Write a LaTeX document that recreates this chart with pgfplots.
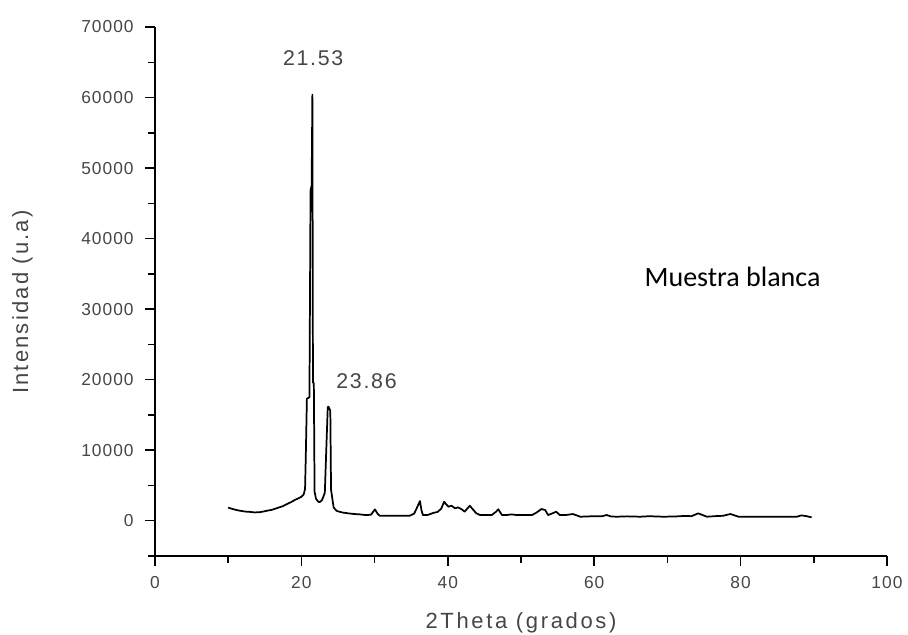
\documentclass[border=0pt]{standalone}
\usepackage{pgfplots}
\pgfplotsset{compat=1.18}
\usepackage{fontspec}
\setmainfont{Liberation Sans}
\newfontfamily\calibri{Carlito}
\definecolor{txtgray}{RGB}{70,70,70}
\begin{document}
\begin{tikzpicture}
\useasboundingbox (-116.25pt,-59.25pt) rectangle (564.75pt,417pt);
\begin{axis}[
  at={(0,0)}, anchor=south west,
  scale only axis, width=549pt, height=396.75pt,
  xmin=0, xmax=100, ymin=-5000, ymax=70000,
  axis lines=left, axis line style={-, line width=1.1pt, black},
  tick align=outside,
  xtick={0,20,...,100}, minor xtick={10,30,50,70,90},
  ytick={0,10000,...,70000}, minor ytick={-5000,5000,15000,25000,35000,45000,55000,65000},
  major tick length=7.5pt, minor tick length=5pt,
  every tick/.style={black, line width=1.1pt},
  /pgf/number format/assume math mode=true,
  /pgf/number format/1000 sep={},
  scaled y ticks=false,
  tick label style={font=\fontsize{13}{15}\selectfont\addfontfeature{LetterSpace=6}, text=txtgray},
  yticklabel style={xshift=-5pt},
  xticklabel style={yshift=-4pt},
  xlabel={2Theta (grados)},
  ylabel={Intensidad (u.a)},
  xlabel style={font=\fontsize{16.5}{19}\selectfont\addfontfeature{LetterSpace=12}, text=txtgray,
    at={(axis description cs:0.5,-0.1267)}, anchor=center},
  ylabel style={font=\fontsize{16.5}{19}\selectfont\addfontfeature{LetterSpace=10}, text=txtgray,
    at={(axis description cs:-0.181,0.48)}, anchor=center},
  clip=false,
]
\addplot[black, line width=1.3pt, line join=round] coordinates {
(10.0,1850) (10.5,1700) (11.0,1550) (11.6,1420) (12.3,1300) (13.0,1250) (13.6,1180) (14.2,1200)
(14.8,1300) (15.3,1420) (16.0,1550) (16.7,1800) (17.5,2080) (18.1,2400) (18.7,2700) (19.2,3000)
(19.6,3180) (20.0,3400) (20.3,3700) (20.5,4500) (20.6,9080) (20.75,17300) (21.1,17500)
(21.25,46900) (21.4,47500) (21.5,60400) (21.58,19600) (21.7,19500) (21.8,4100) (22.0,3100)
(22.3,2700) (22.5,2650) (22.8,2900) (23.0,3400) (23.2,3970) (23.36,8850) (23.6,16100)
(23.7,16170) (23.95,15600) (24.05,4400) (24.4,1900) (24.8,1400) (25.3,1250) (25.7,1150)
(26.4,1050) (27.2,950) (28.0,900) (28.8,800) (29.5,850) (30.05,1610) (30.4,1000) (30.7,710)
(31.5,700) (32.5,700) (33.5,720) (34.8,710) (35.4,1000) (35.75,1760) (36.2,2790) (36.4,1500)
(36.6,810) (37.3,830) (38.0,1100) (38.6,1250) (39.1,1700) (39.5,2700) (39.7,2400) (40.1,1990)
(40.5,2130) (41.0,1760) (41.4,1900) (41.9,1620) (42.3,1280) (43.0,2130) (43.5,1520)
(43.9,1050) (44.4,810) (45.3,800) (46.0,810) (46.6,1280) (46.9,1620) (47.4,810) (48.0,800)
(48.7,900) (49.4,810) (50.5,800) (51.5,810) (52.1,1140) (52.8,1660) (53.3,1520) (53.7,810)
(54.3,1050) (54.8,1280) (55.3,810) (56.2,820) (57.1,950) (58.1,570) (59.0,600) (60.0,650)
(61.0,620) (61.7,810) (62.3,600) (63.1,570) (64.5,620) (66.3,570) (67.5,640) (69.4,570)
(71.0,600) (72.2,670) (73.3,650) (74.2,1050) (75.4,570) (76.5,650) (77.6,700) (78.6,950)
(79.7,570) (81.0,560) (83.0,570) (85.0,570) (87.0,570) (87.7,570) (88.3,760) (89.0,650) (89.7,480)
};
\node[font=\fontsize{16}{19}\selectfont\addfontfeature{LetterSpace=8}, text=txtgray] at (axis cs:21.6,65600) {21.53};
\node[font=\fontsize{16}{19}\selectfont\addfontfeature{LetterSpace=8}, text=txtgray] at (axis cs:28.9,19800) {23.86};
\node[font=\calibri\fontsize{21}{24}\selectfont, text=black] at (axis cs:78.9,34600) {Muestra blanca};
\end{axis}
\end{tikzpicture}
\end{document}
